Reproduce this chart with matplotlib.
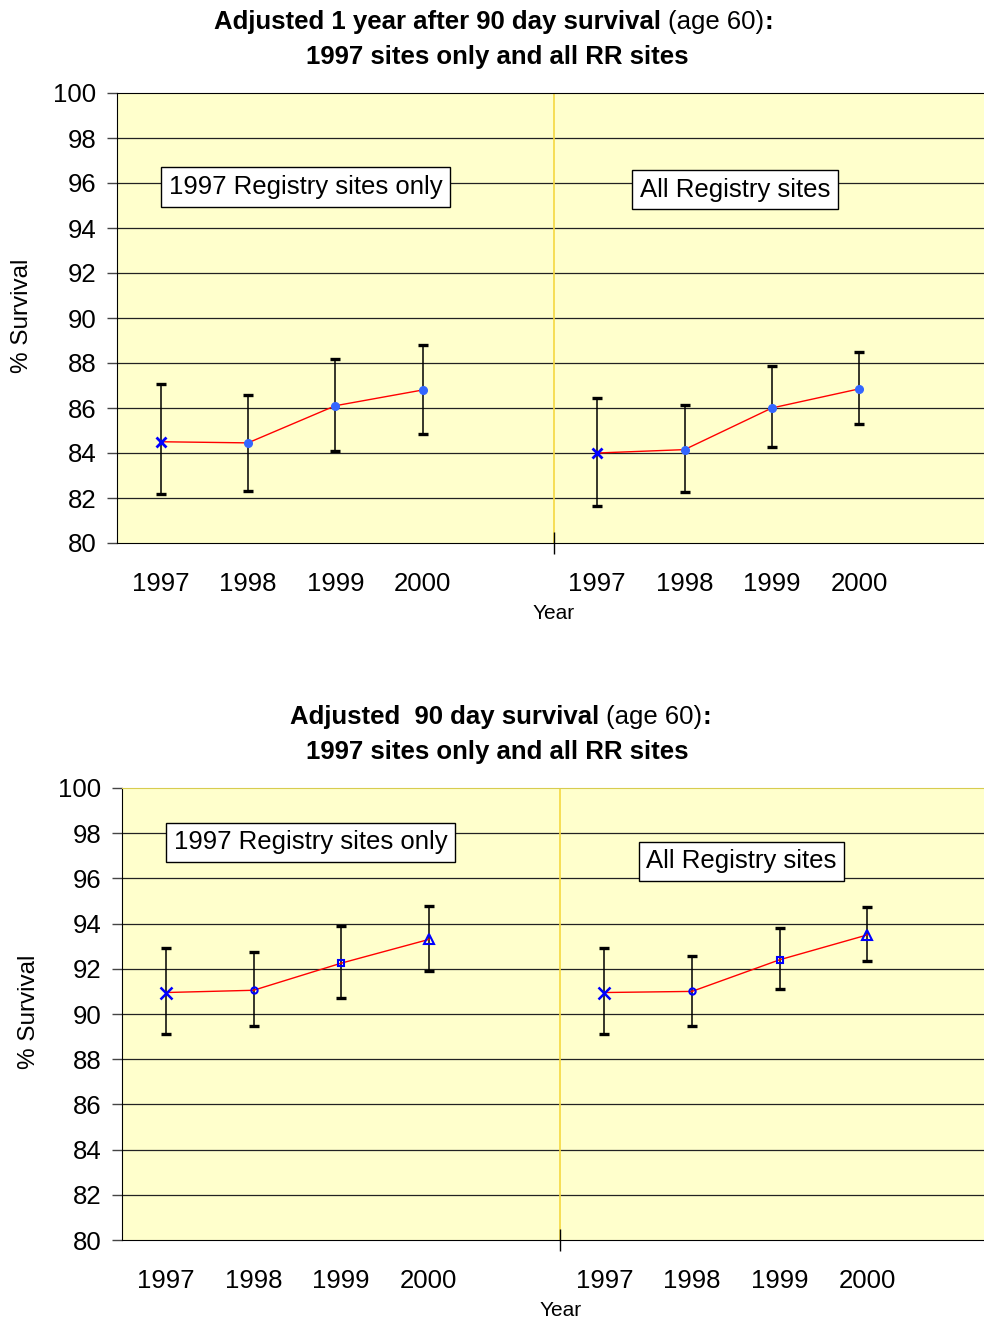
import matplotlib
matplotlib.use("Agg")
import matplotlib.pyplot as plt
from matplotlib.ticker import FixedLocator

plt.rcParams['font.family'] = ['Liberation Sans', 'DejaVu Sans']

years = ['1997', '1998', '1999', '2000']

# top chart: 1 year after 90 day survival
top_1997_mean = [84.5, 84.45, 86.1, 86.8]
top_1997_lo = [82.2, 82.3, 84.1, 84.85]
top_1997_hi = [87.05, 86.6, 88.2, 88.8]
top_all_mean = [84.0, 84.15, 86.0, 86.85]
top_all_lo = [81.65, 82.25, 84.25, 85.3]
top_all_hi = [86.45, 86.15, 87.85, 88.5]

# bottom chart: 90 day survival
bot_1997_mean = [90.95, 91.05, 92.25, 93.3]
bot_1997_lo = [89.1, 89.45, 90.7, 91.9]
bot_1997_hi = [92.9, 92.75, 93.9, 94.8]
bot_all_mean = [90.95, 91.0, 92.4, 93.5]
bot_all_lo = [89.1, 89.45, 91.1, 92.35]
bot_all_hi = [92.9, 92.55, 93.8, 94.75]

left_x = [0, 1, 2, 3]
right_x = [5, 6, 7, 8]

FS = 18.5

fig = plt.figure(figsize=(9.84, 13.2), dpi=100)


def draw_panel(ax, groups, markers, boxes, top_color, xmax):
    ax.set_facecolor('#FFFFCC')
    ax.set_xlim(-0.5, xmax)
    ax.set_ylim(80, 100)
    ax.yaxis.set_major_locator(FixedLocator(range(80, 101, 2)))
    for y in range(82, 100, 2):
        ax.axhline(y, color='#222222', lw=0.9, zorder=1)
    ax.axvline(4.5, color='#F5D840', lw=1.2, zorder=1)

    for (xs, mean, lo, hi) in groups:
        err = [[m - l for m, l in zip(mean, lo)], [h - m for m, h in zip(mean, hi)]]
        ax.errorbar(xs, mean, yerr=err, fmt='none', ecolor='black', elinewidth=1.1,
                    capsize=3.8, capthick=2.4, zorder=3)
        ax.plot(xs, mean, color='#FF0000', lw=1, zorder=4)
        for x, m, mk in zip(xs, mean, markers):
            ax.plot([x], [m], linestyle='none', zorder=5, **mk)

    for x, y, label in boxes:
        ax.text(x, y, label, fontsize=FS, ha='left', va='center', zorder=6,
                bbox=dict(boxstyle='square,pad=0.3', facecolor='white', edgecolor='black', lw=1))

    ax.set_xticks(left_x + right_x)
    ax.set_xticklabels(years + years, fontsize=FS)
    ax.tick_params(axis='x', which='major', length=0, pad=21)
    ax.set_xticks([4.5], minor=True)
    ax.tick_params(axis='x', which='minor', length=16, direction='inout', width=1, color='black')
    ax.tick_params(axis='y', labelsize=FS, length=7, direction='out', width=1, color='#444444', pad=8)
    ax.spines['right'].set_visible(False)
    ax.spines['top'].set_color(top_color)
    ax.spines['left'].set_color('black')
    ax.spines['bottom'].set_color('black')
    ax.text(4.5, -0.156, 'Year', transform=ax.get_xaxis_transform(), ha='center', va='center', fontsize=15)


def mixed_title(ax, x_split, y, bold_a, normal_b, line2, y2):
    t1 = fig.text(x_split, y, bold_a, ha='right', va='center', fontsize=FS, weight='bold')
    t2 = ax.annotate(normal_b, xy=(1, 0), xycoords=t1, ha='left', va='bottom', fontsize=FS)
    ax.annotate(':', xy=(1, 0), xycoords=t2, ha='left', va='bottom', fontsize=FS, weight='bold')
    fig.text(0.505, y2, line2, ha='center', va='center', fontsize=FS, weight='bold')


# top chart
ax1 = fig.add_axes([117 / 984, 1 - 543 / 1320, 1 - 117 / 984, 450 / 1320])
top_marks = [dict(marker='x', color='#0000FF', ms=7, mew=2)] + \
            [dict(marker='o', color='#3366FF', ms=5.5)] * 3
draw_panel(ax1,
           [(left_x, top_1997_mean, top_1997_lo, top_1997_hi),
            (right_x, top_all_mean, top_all_lo, top_all_hi)],
           top_marks,
           [(0.09, 95.82, '1997 Registry sites only'), (5.49, 95.71, 'All Registry sites')],
           'black', 9.43)
mixed_title(ax1, 668 / 984, 1 - 22 / 1320, 'Adjusted 1 year after 90 day survival ', '(age 60)',
            '1997 sites only and all RR sites', 1 - 57 / 1320)
fig.text(22 / 984, 1 - 316 / 1320, '% Survival', rotation=90, ha='center', va='center', fontsize=17.5)

# bottom chart
ax2 = fig.add_axes([122 / 984, 1 - 1240 / 1320, 1 - 122 / 984, 452 / 1320])
bot_marks = [dict(marker='x', color='#0000FF', ms=9, mew=1.8),
             dict(marker='o', mfc='none', mec='#0000FF', ms=4.5, mew=1.5),
             dict(marker='s', mfc='none', mec='#0000FF', ms=5, mew=1.5),
             dict(marker='^', mfc='none', mec='#0000FF', ms=6.5, mew=1.5)]
draw_panel(ax2,
           [(left_x, bot_1997_mean, bot_1997_lo, bot_1997_hi),
            (right_x, bot_all_mean, bot_all_lo, bot_all_hi)],
           bot_marks,
           [(0.09, 97.59, '1997 Registry sites only'), (5.48, 96.75, 'All Registry sites')],
           '#D8CC50', 9.33)
mixed_title(ax2, 606 / 984, 1 - 717 / 1320, 'Adjusted  90 day survival ', '(age 60)',
            '1997 sites only and all RR sites', 1 - 752 / 1320)
fig.text(29 / 984, 1 - 1012 / 1320, '% Survival', rotation=90, ha='center', va='center', fontsize=17.5)

fig.savefig('out.png', dpi=100)
